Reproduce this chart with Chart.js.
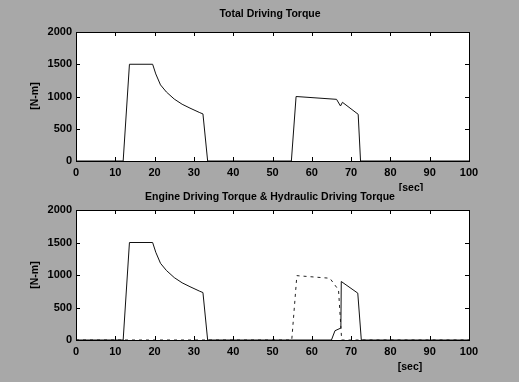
<!DOCTYPE html>
<html lang="en">
<head>
  <meta charset="UTF-8">
  <title>Driving Torque</title>
  <script src="https://cdn.jsdelivr.net/npm/chart.js"></script>
  <style>
    html, body { margin: 0; padding: 0; background: #a8a8a8; }
    .box { position: absolute; left: 0; width: 519px; height: 191px; }
  </style>
</head>
<body>
  <div class="box" style="top:0"><canvas id="topChart" width="519" height="191"></canvas></div>
  <div class="box" style="top:191px"><canvas id="bottomChart" width="519" height="191"></canvas></div>
<script>
// time [sec] and torque [N-m]
const totalTime   = [0, 12.0, 13.6, 19.5, 20.3, 21.5, 23, 25, 27, 29, 31.5, 32.3, 33.5, 54.8, 56.0, 66.3, 67.3, 67.8, 71.8, 72.4, 100];
const totalTorque = [0, 0, 1500, 1500, 1350, 1180, 1070, 960, 880, 820, 750, 730, 0, 0, 1000, 956, 853, 910, 724, 0, 0];

const engineTime   = [0, 12.0, 13.6, 19.5, 20.3, 21.5, 23, 25, 27, 29, 31.5, 32.3, 33.5, 65.0, 65.9, 67.4, 67.5, 71.7, 72.6, 100];
const engineTorque = [0, 0, 1500, 1500, 1350, 1180, 1070, 960, 880, 820, 750, 730, 0, 0, 143, 184, 900, 721, 0, 0];

const hydraulicTime   = [0, 54.9, 56.2, 64.6, 66.8, 67.6, 100];
const hydraulicTorque = [0, 0, 990, 950, 770, 0, 0];

const xTicks = [0, 10, 20, 30, 40, 50, 60, 70, 80, 90, 100];
const yTicks = [0, 500, 1000, 1500, 2000];

const FONT = '"Liberation Sans", Arial, sans-serif';

function pts(xs, ys) {
  return xs.map((x, i) => ({ x: x, y: ys[i] }));
}

// white plot area, box and inward tick marks on all four sides, plus texts
const matlabAxes = {
  id: 'matlabAxes',
  beforeDraw(chart) {
    const a = chart.chartArea, ctx = chart.ctx;
    ctx.save();
    ctx.fillStyle = '#ffffff';
    ctx.fillRect(a.left, a.top, a.right - a.left, a.bottom - a.top);
    ctx.restore();
  },
  afterDraw(chart, args, opts) {
    const a = chart.chartArea, ctx = chart.ctx;
    const xs = chart.scales.x, ys = chart.scales.y;
    ctx.save();
    ctx.strokeStyle = '#000';
    ctx.lineWidth = 1;
    ctx.strokeRect(Math.round(a.left) + 0.5, Math.round(a.top) + 0.5,
                   Math.round(a.right - a.left), Math.round(a.bottom - a.top));
    ctx.beginPath();
    xTicks.forEach(v => {
      const px = Math.round(xs.getPixelForValue(v)) + 0.5;
      ctx.moveTo(px, a.bottom); ctx.lineTo(px, a.bottom - 4);
      ctx.moveTo(px, a.top); ctx.lineTo(px, a.top + 4);
    });
    yTicks.forEach(v => {
      const py = Math.round(ys.getPixelForValue(v)) + 0.5;
      ctx.moveTo(a.left, py); ctx.lineTo(a.left + 4, py);
      ctx.moveTo(a.right, py); ctx.lineTo(a.right - 4, py);
    });
    ctx.stroke();

    ctx.fillStyle = '#000';
    ctx.font = 'bold 10.5px ' + FONT;
    ctx.textAlign = 'center';
    ctx.textBaseline = 'middle';
    ctx.fillText(opts.title, opts.titleX, opts.titleY);
    ctx.fillText('[sec]', opts.secX, opts.secY);
    ctx.translate(opts.ylabX, opts.ylabY);
    ctx.rotate(-Math.PI / 2);
    ctx.fillText('[N-m]', 0, 0);
    ctx.restore();
  }
};

function makeChart(id, datasets, padTop, padBottomAxis, texts) {
  return new Chart(document.getElementById(id), {
    type: 'line',
    data: { datasets: datasets },
    plugins: [matlabAxes],
    options: {
      responsive: false,
      animation: false,
      layout: { padding: { top: padTop, right: 50, left: 0, bottom: 0 } },
      plugins: {
        legend: { display: false },
        tooltip: { enabled: false },
        matlabAxes: texts
      },
      elements: { point: { radius: 0 }, line: { tension: 0 } },
      scales: {
        x: {
          type: 'linear', min: 0, max: 100,
          grid: { display: false, drawTicks: false },
          border: { display: false },
          afterBuildTicks: s => { s.ticks = xTicks.map(v => ({ value: v })); },
          afterFit: s => { s.height = padBottomAxis; },
          ticks: { color: '#000', padding: 5, maxRotation: 0, callback: v => String(v),
                   font: { family: FONT, size: 11, weight: 'bold' } }
        },
        y: {
          min: 0, max: 2000,
          grid: { display: false, drawTicks: false },
          border: { display: false },
          afterBuildTicks: s => { s.ticks = yTicks.map(v => ({ value: v })); },
          afterFit: s => { s.width = 76; },
          ticks: { color: '#000', padding: 4, callback: v => String(v),
                   font: { family: FONT, size: 11, weight: 'bold' } }
        }
      }
    }
  });
}

makeChart('topChart', [
  { label: 'Total', data: pts(totalTime, totalTorque), borderColor: '#111', borderWidth: 1 }
], 32, 30, { title: 'Total Driving Torque', titleX: 270, titleY: 14, secX: 411, secY: 188, ylabX: 35, ylabY: 96 });

makeChart('bottomChart', [
  { label: 'Engine', data: pts(engineTime, engineTorque), borderColor: '#111', borderWidth: 1 },
  { label: 'Hydraulic', data: pts(hydraulicTime, hydraulicTorque), borderColor: '#222', borderWidth: 1, borderDash: [3, 4] }
], 19, 42, { title: 'Engine Driving Torque & Hydraulic Driving Torque', titleX: 270, titleY: 6, secX: 410, secY: 176, ylabX: 35, ylabY: 84 });
</script>
</body>
</html>
